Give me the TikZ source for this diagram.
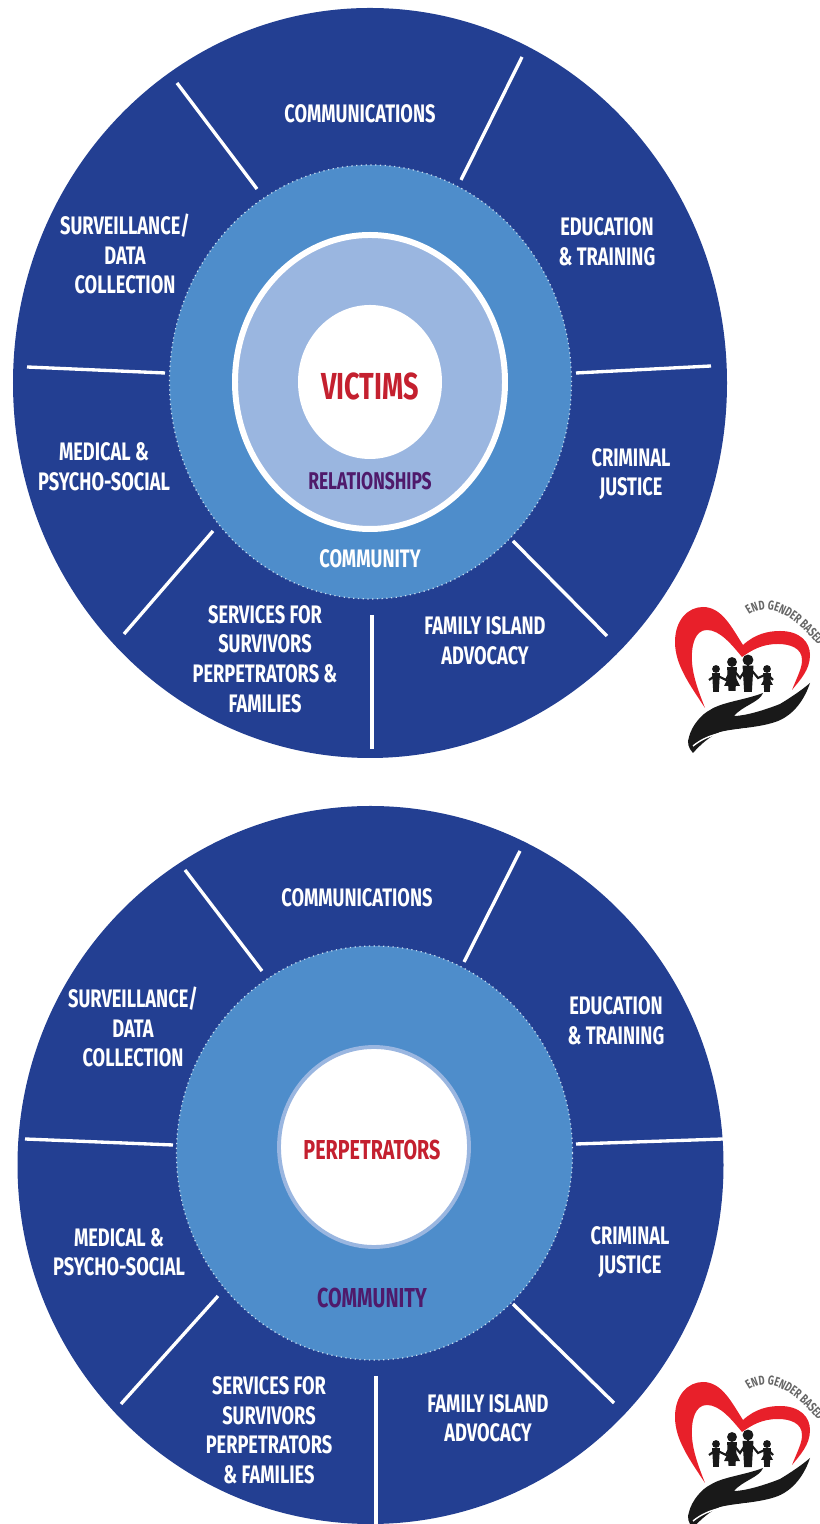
\documentclass[tikz,border=0pt]{standalone}
\usepackage{fontspec}
\setmainfont[FakeStretch=0.72]{Fira Sans}
\usetikzlibrary{calc,decorations.text}
\definecolor{ColorDisc}{HTML}{233F92}
\definecolor{ColorMid}{HTML}{4E8DCB}
\definecolor{ColorRing}{HTML}{9AB6E0}
\definecolor{ColorRed}{HTML}{C4202F}
\definecolor{ColorPlum}{HTML}{4F1A6B}
\definecolor{ColorHeart}{HTML}{E8202A}
\tikzset{
  spoke/.style={draw=white, line width=0.95pt},
  sector/.style={text=white, font=\bfseries\fontsize{7.2}{8.4}\selectfont, align=center, inner sep=0pt},
  ringdot/.style={draw=white!70!ColorMid, line width=0.35pt, densely dotted},
  logo/.pic={
    %Trái tim
    \fill[ColorHeart] (0.45,-1.18) .. controls (0.3,-0.95) and (0.15,-0.75) .. (0.15,-0.52)
      .. controls (0.15,-0.3) and (0.28,-0.17) .. (0.43,-0.17)
      .. controls (0.62,-0.17) and (0.72,-0.38) .. (0.83,-0.55)
      .. controls (0.95,-0.44) and (1.08,-0.41) .. (1.2,-0.41)
      .. controls (1.4,-0.41) and (1.5,-0.52) .. (1.5,-0.65)
      .. controls (1.5,-0.8) and (1.4,-0.9) .. (1.32,-1.0)
      .. controls (1.38,-0.85) and (1.42,-0.78) .. (1.42,-0.7)
      .. controls (1.42,-0.58) and (1.3,-0.54) .. (1.18,-0.54)
      .. controls (1.02,-0.54) and (0.92,-0.6) .. (0.82,-0.67)
      .. controls (0.72,-0.55) and (0.6,-0.4) .. (0.47,-0.4)
      .. controls (0.35,-0.4) and (0.31,-0.55) .. (0.32,-0.72)
      .. controls (0.33,-0.88) and (0.4,-1.05) .. (0.45,-1.18) -- cycle;
    %Bàn tay
    \fill[black!90] (0.33,-1.63) .. controls (0.28,-1.58) and (0.27,-1.52) .. (0.29,-1.47)
      .. controls (0.32,-1.35) and (0.42,-1.24) .. (0.5,-1.2)
      .. controls (0.62,-1.12) and (0.85,-1.1) .. (1.03,-1.03)
      .. controls (1.0,-1.12) and (0.82,-1.16) .. (0.74,-1.26)
      .. controls (0.85,-1.26) and (1.05,-1.2) .. (1.2,-1.14)
      .. controls (1.3,-1.08) and (1.42,-1.0) .. (1.5,-0.93)
      .. controls (1.45,-1.08) and (1.35,-1.24) .. (1.18,-1.31)
      .. controls (1.0,-1.38) and (0.75,-1.38) .. (0.6,-1.42)
      .. controls (0.5,-1.46) and (0.4,-1.55) .. (0.33,-1.63) -- cycle;
    \draw[white, line width=0.4pt] (0.33,-1.56) .. controls (0.5,-1.42) and (0.7,-1.42) .. (0.85,-1.39);
    %Gia đình
    \draw[black!90, line width=0.6pt] (0.49,-0.9) -- (0.56,-0.85) -- (0.66,-0.9) -- (0.72,-0.78)
      -- (0.8,-0.88) -- (0.88,-0.76) -- (0.98,-0.88) -- (1.07,-0.84) -- (1.13,-0.9);
    \foreach \px/\py/\ps in {0.56/-0.79/0.23, 0.72/-0.72/0.29, 0.88/-0.70/0.32, 1.07/-0.79/0.23}{
      \fill[black!90] (\px,\py) circle (0.17*\ps);
      \fill[black!90] (\px-0.17*\ps,\py-0.18*\ps) -- (\px+0.17*\ps,\py-0.18*\ps)
        -- (\px+0.12*\ps,\py-\ps) -- (\px-0.12*\ps,\py-\ps) -- cycle;
    }
    \fill[black!90] (0.72-0.08,-0.96) -- (0.72+0.08,-0.96) -- (0.72,-0.8) -- cycle;
    \fill[black!90] (1.07-0.06,-0.95) -- (1.07+0.06,-0.95) -- (1.07,-0.84) -- cycle;
    %Chữ
    \path[postaction={decorate, decoration={text along path, text align=left,
        text={|\bfseries\fontsize{3.7}{4}\selectfont\color{black!60}|END GENDER BASED}}}]
      (0.89,-0.25) .. controls (1.1,-0.1) and (1.4,-0.25) .. (1.8,-0.85);
  }
}
\begin{document}
\begin{tikzpicture}
  \useasboundingbox (0,0) rectangle (8.19,15.24);
  %Vòng trên
  \fill[ColorDisc] (3.70,11.41) ellipse (3.57 and 3.75);
  \draw[spoke] (5.22,14.67)--(4.61,13.44);
  \draw[spoke] (1.77,14.41)--(2.57,13.35);
  \draw[spoke] (0.27,11.57)--(1.65,11.51);
  \draw[spoke] (5.76,11.51)--(7.11,11.58);
  \draw[spoke] (2.13,9.93)--(1.24,8.90);
  \draw[spoke] (5.13,9.83)--(6.07,8.88);
  \draw[spoke] (3.72,9.09)--(3.72,7.75);
  \filldraw[ringdot, fill=ColorMid] (3.705,11.42) ellipse (2.01 and 2.17);
  \filldraw[draw=white, fill=ColorRing, line width=1.7pt] (3.70,11.42) ellipse (1.35 and 1.47);
  \fill[white] (3.70,11.42) ellipse (0.72 and 0.77);
  \node[sector, text=ColorRed, font=\bfseries\fontsize{10.7}{12}\selectfont] (victims) at (3.70,11.38) {VICTIMS};
  \node[sector, text=ColorPlum, font=\bfseries\fontsize{6.9}{8}\selectfont] (relationships) at (3.70,10.43) {RELATIONSHIPS};
  \node[sector] (community) at (3.70,9.65) {COMMUNITY};
  \node[sector] (comm) at (3.60,14.10) {COMMUNICATIONS};
  \node[sector] (surv) at (1.25,12.70) {SURVEILLANCE/\\DATA\\COLLECTION};
  \node[sector] (educ) at (6.07,12.82) {EDUCATION\\\& TRAINING};
  \node[sector] (medi) at (1.04,10.57) {MEDICAL \&\\PSYCHO-SOCIAL};
  \node[sector] (crim) at (6.31,10.50) {CRIMINAL\\JUSTICE};
  \node[sector] (serv) at (2.65,8.65) {SERVICES FOR\\SURVIVORS\\PERPETRATORS \&\\FAMILIES};
  \node[sector] (fami) at (4.85,8.83) {FAMILY ISLAND\\ADVOCACY};
  \pic at (6.60,9.34) {logo};
  %Vòng dưới
  \fill[ColorDisc] (3.705,3.59) ellipse (3.53 and 3.59);
  \draw[spoke] (5.20,6.73)--(4.64,5.62);
  \draw[spoke] (1.85,6.54)--(2.62,5.53);
  \draw[spoke] (0.25,3.85)--(1.73,3.79);
  \draw[spoke] (5.76,3.80)--(7.23,3.85);
  \draw[spoke] (2.18,2.28)--(1.21,1.20);
  \draw[spoke] (5.13,2.20)--(6.14,1.21);
  \draw[spoke] (3.76,1.48)--(3.76,0);
  \filldraw[ringdot, fill=ColorMid] (3.745,3.71) ellipse (1.98 and 2.07);
  \filldraw[draw=ColorRing, fill=white, line width=1.1pt] (3.74,3.77) ellipse (0.95 and 1.00);
  \node[sector, text=ColorRed, font=\bfseries\fontsize{7.8}{9}\selectfont] (perp) at (3.72,3.74) {PERPETRATORS};
  \node[sector, text=ColorPlum, font=\bfseries\fontsize{7.8}{9}\selectfont] (commb) at (3.72,2.26) {COMMUNITY};
  \node[sector] (commc) at (3.57,6.26) {COMMUNICATIONS};
  \node[sector] (survb) at (1.33,4.97) {SURVEILLANCE/\\DATA\\COLLECTION};
  \node[sector] (educb) at (6.16,5.03) {EDUCATION\\\& TRAINING};
  \node[sector] (medib) at (1.19,2.72) {MEDICAL \&\\PSYCHO-SOCIAL};
  \node[sector] (crimb) at (6.30,2.72) {CRIMINAL\\JUSTICE};
  \node[sector] (servb) at (2.69,0.94) {SERVICES FOR\\SURVIVORS\\PERPETRATORS\\\& FAMILIES};
  \node[sector] (famib) at (4.88,1.06) {FAMILY ISLAND\\ADVOCACY};
  \pic at (6.60,1.59) {logo};
\end{tikzpicture}
\end{document}
